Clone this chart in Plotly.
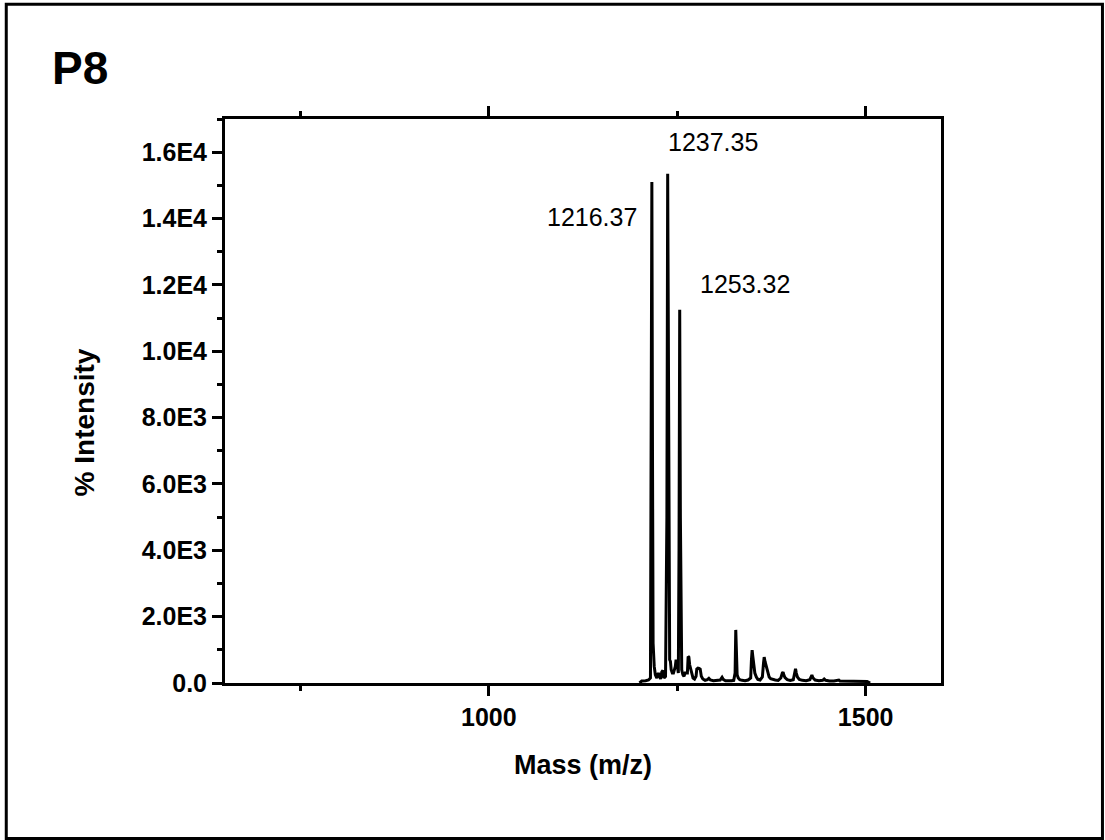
import plotly.graph_objects as go

# Spectrum trace: mass (m/z) and intensity points
mass = [
    1200, 1203, 1208, 1212, 1214.5, 1215.6, 1216.37, 1217.2, 1218, 1219.5,
    1221, 1223, 1225, 1228, 1229.5, 1231, 1232.5, 1234.5, 1236.3, 1237.35,
    1238.3, 1239, 1240, 1241, 1242, 1243.5, 1245, 1247.5, 1248.5, 1249.5,
    1250.5, 1251.5, 1252.4, 1253.32, 1254.2, 1255, 1256, 1257.5, 1259, 1260.5,
    1263.5, 1264.5, 1265.5, 1266.5, 1268, 1269.5, 1271, 1273, 1275, 1276,
    1277.5, 1279, 1280.5, 1282, 1284, 1287, 1290, 1292, 1294, 1298,
    1303, 1307, 1309.5, 1311, 1314, 1318, 1322, 1325, 1326.8, 1327.7,
    1328.6, 1329.5, 1331, 1333, 1336, 1340, 1344, 1347.5, 1348.5, 1349.4,
    1350.3, 1351.5, 1353, 1355, 1357, 1360, 1363, 1364.5, 1365.4, 1366.5,
    1367.5, 1369, 1370.5, 1372, 1374, 1377, 1380, 1384, 1387.5, 1389.5,
    1390.5, 1391.5, 1393, 1396, 1400, 1404, 1406, 1407, 1408, 1409.5,
    1412, 1416, 1421, 1426, 1428.7, 1430, 1433, 1438, 1443, 1445,
    1447, 1452, 1458, 1463, 1464.5, 1466, 1472, 1478, 1483, 1488,
    1493, 1498, 1502, 1506,
]
intensity = [
    0, 60, 70, 90, 150, 6000, 15100, 7000, 1200, 500,
    250, 150, 300, 120, 330, 380, 150, 200, 5000, 15350,
    7500, 1500, 700, 650, 400, 300, 300, 500, 700, 650,
    400, 300, 4000, 11250, 5000, 1200, 400, 250, 200, 300,
    300, 800, 780, 550, 400, 220, 150, 120, 200, 420,
    450, 440, 420, 200, 120, 80, 100, 140, 90, 70,
    70, 90, 170, 110, 70, 60, 70, 80, 300, 1600,
    700, 250, 150, 100, 80, 70, 90, 150, 700, 990,
    800, 500, 300, 180, 110, 90, 180, 600, 780, 650,
    550, 400, 250, 180, 130, 100, 90, 80, 150, 300,
    330, 240, 160, 100, 80, 100, 300, 430, 300, 180,
    110, 80, 70, 100, 240, 160, 90, 70, 80, 120,
    80, 60, 60, 70, 90, 60, 55, 50, 55, 60,
    50, 50, 45, 0,
]

# Labelled peaks and where their labels sit
label_text = ["1216.37", "1237.35", "1253.32"]
label_x = [1137, 1297, 1340]
label_y = [14040, 16320, 12020]

# Axis ticks
x_tickvals = [1000, 1500]
x_ticktext = ["1000", "1500"]
y_tickvals = [0, 2000, 4000, 6000, 8000, 10000, 12000, 14000, 16000]
y_ticktext = ["0.0", "2.0E3", "4.0E3", "6.0E3", "8.0E3", "1.0E4", "1.2E4", "1.4E4", "1.6E4"]

FONT = "Arial, 'Liberation Sans', sans-serif"

fig = go.Figure()
fig.add_trace(go.Scatter(
    x=mass, y=intensity, mode="lines",
    line=dict(color="black", width=3),
    hoverinfo="skip", showlegend=False,
))

for xm, txt, ty in zip(label_x, label_text, label_y):
    fig.add_annotation(
        x=xm, y=ty, xref="x", yref="y", text=txt, showarrow=False,
        font=dict(family=FONT, size=25, color="black"),
        xanchor="center", yanchor="middle",
    )

# Panel label
fig.add_annotation(
    x=-0.245, y=1.09, xref="paper", yref="paper", text="<b>P8</b>",
    showarrow=False, font=dict(family=FONT, size=46, color="black"),
    xanchor="left", yanchor="middle",
)

# Y-axis title, placed beside the tick labels
fig.add_annotation(
    x=-0.197, y=0.462, xref="paper", yref="paper", text="<b>% Intensity</b>",
    showarrow=False, textangle=-90, font=dict(family=FONT, size=28, color="black"),
    xanchor="center", yanchor="middle",
)

# Outer frame
fig.add_shape(type="rect", xref="paper", yref="paper",
              x0=-0.3055, x1=1.2255, y0=-0.2757, y1=1.2035,
              line=dict(color="black", width=3), fillcolor="rgba(0,0,0,0)",
              layer="above")

fig.update_layout(
    width=1105, height=840,
    margin=dict(l=225, r=164, t=119, b=157),
    paper_bgcolor="white", plot_bgcolor="white",
    font=dict(family=FONT, color="black"),
    showlegend=False,
)

fig.update_xaxes(
    range=[650, 1600],
    tickvals=x_tickvals, ticktext=x_ticktext,
    ticks="outside", ticklen=10, tickwidth=2.5, tickcolor="black",
    minor=dict(tickvals=[750, 1250], ticks="outside", ticklen=5, tickwidth=2.5, tickcolor="black"),
    showline=True, linecolor="black", linewidth=3, mirror="allticks",
    showgrid=False, zeroline=False,
    tickfont=dict(family=FONT, size=25, color="black", weight="bold"),
    title=dict(text="<b>Mass (m/z)</b>", font=dict(family=FONT, size=27, color="black"), standoff=26),
)
fig.update_yaxes(
    range=[0, 17000],
    tickvals=y_tickvals, ticktext=y_ticktext,
    ticks="outside", ticklen=10, tickwidth=2.5, tickcolor="black",
    minor=dict(dtick=1000, tick0=0, ticks="outside", ticklen=5, tickwidth=2.5, tickcolor="black"),
    showline=True, linecolor="black", linewidth=3, mirror=True,
    showgrid=False, zeroline=False,
    tickfont=dict(family=FONT, size=25, color="black", weight="bold"),
)

fig.write_html("out.html")
